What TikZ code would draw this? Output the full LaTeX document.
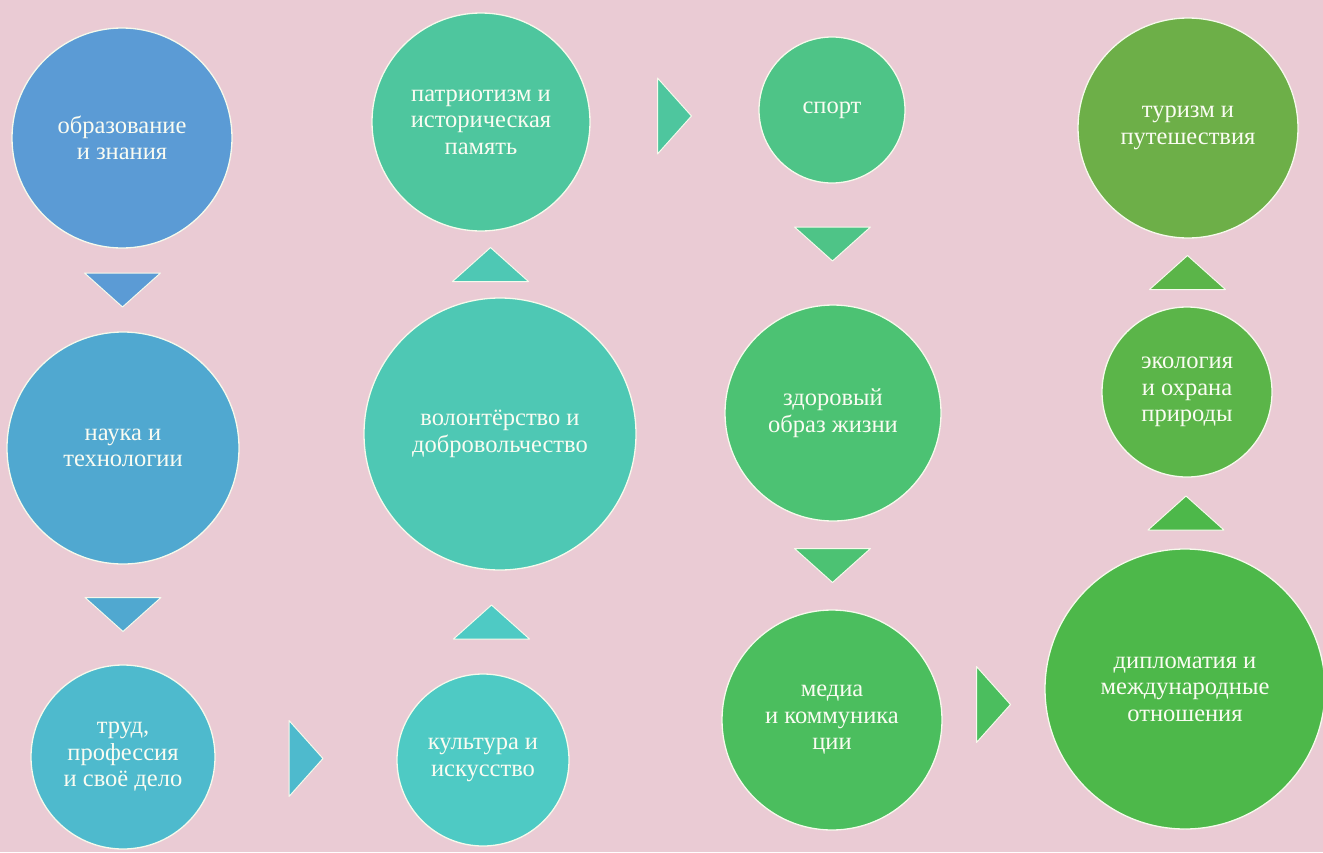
\documentclass[tikz,border=0pt]{standalone}
\usepackage{fontspec}
\setmainfont{Liberation Serif}
\usetikzlibrary{calc}
\definecolor{bgpink}{RGB}{234,203,212}
\definecolor{edgec}{RGB}{246,250,236}
\definecolor{txtc}{RGB}{250,252,242}
\definecolor{cobr}{RGB}{91,155,213}
\definecolor{cnauka}{RGB}{80,168,208}
\definecolor{ctrud}{RGB}{78,186,205}
\definecolor{ckult}{RGB}{78,202,196}
\definecolor{cvol}{RGB}{78,200,180}
\definecolor{cpatr}{RGB}{78,198,158}
\definecolor{csport}{RGB}{78,196,135}
\definecolor{czdor}{RGB}{76,194,115}
\definecolor{cmedia}{RGB}{75,190,94}
\definecolor{cdipl}{RGB}{77,184,74}
\definecolor{ceco}{RGB}{91,181,73}
\definecolor{ctur}{RGB}{109,175,72}
\newcommand\flowtri[3]{%
  \begin{scope}[shift={(#1)},rotate=#2]
    \filldraw[tri,fill=#3] (-17,-38) -- (17,0) -- (-17,38) -- cycle;
  \end{scope}}
\begin{document}
\begin{tikzpicture}[x=1pt,y=-1pt,
  bub/.style={circle,draw=edgec,line width=1.3pt,inner sep=0pt,text=txtc,align=center,
    font=\fontsize{24.5}{26.5}\selectfont},
  tri/.style={draw=edgec,line width=1pt,line join=round}]
\fill[bgpink] (0,0) rectangle (1323,852);
\useasboundingbox (0,0) rectangle (1323,852);
% circles
\node[bub,fill=cobr,minimum size=220pt] (obr) at (122,138) {образование\\и знания};
\node[bub,fill=cnauka,minimum size=232pt] (nauka) at (123,448) {наука и\\технологии};
\node[bub,fill=ctrud,minimum size=184pt] (trud) at (123,757) {труд,\\профессия\\и своё дело};
\node[bub,fill=ckult,minimum size=172pt] (kult) at (483,760) {культура и\\искусство};
\node[bub,fill=cvol,minimum size=272pt] (vol) at (500,434) {волонтёрство и\\добровольчество};
\node[bub,fill=cpatr,minimum size=218pt] (patr) at (481,122) {патриотизм и\\историческая\\память};
\node[bub,fill=csport,minimum size=146pt] (sport) at (832,110) {спорт};
\node[bub,fill=czdor,minimum size=216pt] (zdor) at (833,413) {здоровый\\образ жизни};
\node[bub,fill=cmedia,minimum size=220pt] (media) at (832,720) {медиа\\и коммуника\\ции};
\node[bub,fill=cdipl,minimum size=280pt] (dipl) at (1185,689) {дипломатия и\\международные\\отношения};
\node[bub,fill=ceco,minimum size=170pt] (eco) at (1187,392) {экология\\и охрана\\природы};
\node[bub,fill=ctur,minimum size=220pt] (tur) at (1188,128) {туризм и\\путешествия};
% connector midpoints
\coordinate (m1) at ($(obr.south)!0.5!(nauka.north)$);
\coordinate (m2) at ($(nauka.south)!0.5!(trud.north)$);
\coordinate (m3) at ($(trud.east)!0.5!(kult.west)$);
\coordinate (m4) at ($(kult.north)!0.5!(vol.south)$);
\coordinate (m5) at ($(vol.north)!0.5!(patr.south)$);
\coordinate (m6) at ($(patr.east)!0.5!(sport.west)$);
\coordinate (m7) at ($(sport.south)!0.5!(zdor.north)$);
\coordinate (m8) at ($(zdor.south)!0.5!(media.north)$);
\coordinate (m9) at ($(media.east)!0.5!(dipl.west)$);
\coordinate (m10) at ($(dipl.north)!0.5!(eco.south)$);
\coordinate (m11) at ($(eco.north)!0.5!(tur.south)$);
% connector triangles
\flowtri{m1}{-90}{cobr}
\flowtri{m2}{-90}{cnauka}
\flowtri{m3}{0}{ctrud}
\flowtri{m4}{90}{ckult}
\flowtri{m5}{90}{cvol}
\flowtri{m6}{0}{cpatr}
\flowtri{m7}{-90}{csport}
\flowtri{m8}{-90}{czdor}
\flowtri{m9}{0}{cmedia}
\flowtri{m10}{90}{cdipl}
\flowtri{m11}{90}{ceco}
\end{tikzpicture}
\end{document}
